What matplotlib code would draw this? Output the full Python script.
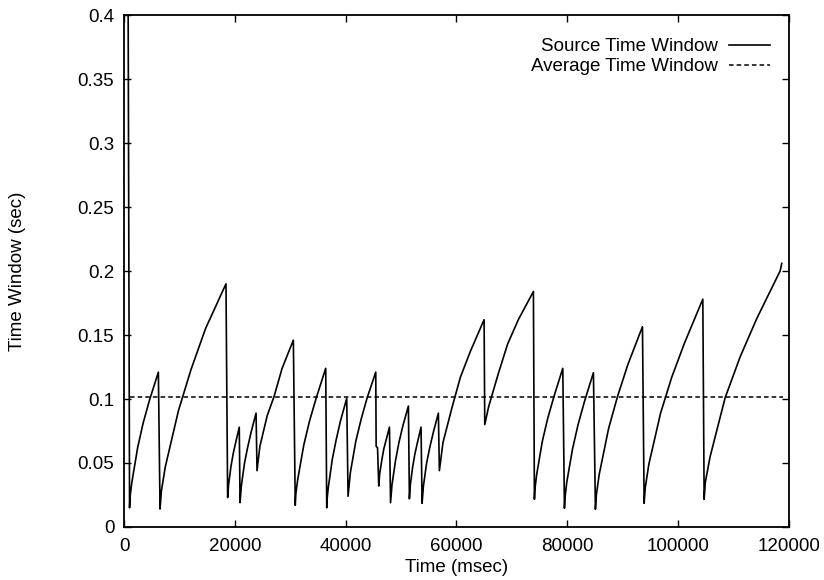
import matplotlib
matplotlib.use("Agg")
import matplotlib.pyplot as plt

plt.rcParams['font.family'] = ['Liberation Sans', 'DejaVu Sans']

# source time window (time in msec, window in sec)
src_time = [
    0, 750, 1000,
    1100, 1420, 2460, 3440, 4590, 6200, 6500,
    6740, 7450, 9830, 12090, 14710, 18400, 18700,
    18870, 19290, 19690, 20150, 20800, 20940,
    21170, 21750, 22300, 22930, 23830, 24000,
    24520, 25840, 27080, 28530, 30560, 30900,
    31010, 31340, 32440, 33490, 34700, 36400, 36580,
    36650, 36870, 37590, 38280, 39070, 40190, 40430,
    40830, 41830, 42780, 43880, 45430, 45500, 45750, 45970,
    46120, 46510, 46880, 47300, 47900, 48100,
    48360, 49000, 49610, 50320, 51320, 51500,
    51670, 52090, 52490, 52950, 53600, 53790,
    54030, 54610, 55170, 55820, 56730, 56910,
    57560, 59170, 60700, 62480, 64980, 65100,
    65800, 67560, 69230, 71160, 73880, 74060,
    74160, 74470, 75490, 76470, 77590, 79180, 79480,
    79580, 79900, 80940, 81940, 83090, 84710, 85070,
    85240, 85750, 87450, 89060, 90930, 93560, 93860,
    94070, 94710, 96830, 98840, 101170, 104450, 104690,
    104900, 105770, 108480, 111190, 114200, 118400, 118700,
]
src_window = [
    0.40, 0.40, 0.015,
    0.024, 0.035, 0.062, 0.081, 0.099, 0.121, 0.014,
    0.028, 0.047, 0.091, 0.123, 0.155, 0.190, 0.023,
    0.033, 0.047, 0.057, 0.066, 0.078, 0.019,
    0.032, 0.050, 0.062, 0.074, 0.089, 0.044,
    0.063, 0.087, 0.102, 0.124, 0.146, 0.017,
    0.026, 0.037, 0.064, 0.083, 0.101, 0.124, 0.015,
    0.022, 0.031, 0.053, 0.068, 0.083, 0.1005, 0.024,
    0.042, 0.067, 0.084, 0.101, 0.121, 0.063, 0.062, 0.032,
    0.041, 0.052, 0.061, 0.068, 0.078, 0.019,
    0.033, 0.052, 0.066, 0.079, 0.0945, 0.022,
    0.033, 0.047, 0.057, 0.066, 0.078, 0.0185,
    0.032, 0.050, 0.062, 0.074, 0.089, 0.044,
    0.066, 0.093, 0.117, 0.137, 0.162, 0.080,
    0.094, 0.120, 0.143, 0.162, 0.184, 0.0216,
    0.030, 0.041, 0.067, 0.085, 0.102, 0.124, 0.0146,
    0.023, 0.035, 0.061, 0.080, 0.098, 0.1206, 0.0138,
    0.025, 0.041, 0.077, 0.102, 0.127, 0.1565, 0.0185,
    0.031, 0.049, 0.089, 0.117, 0.144, 0.178, 0.0216,
    0.035, 0.055, 0.101, 0.133, 0.163, 0.200, 0.206,
]

avg_time = [1000, 119000]
avg_window = [0.1015, 0.1015]

x_ticks = [0, 20000, 40000, 60000, 80000, 100000, 120000]
y_ticks = [0, 0.05, 0.1, 0.15, 0.2, 0.25, 0.3, 0.35, 0.4]
y_labels = ['0', '0.05', '0.1', '0.15', '0.2', '0.25', '0.3', '0.35', '0.4']

fs = 13.5

fig = plt.figure(figsize=(8.24, 5.8), dpi=100)
ax = fig.add_axes([0.1505, 0.0914, 0.807, 0.8826])

ax.plot(src_time, src_window, color='black', lw=1.2, label='Source Time Window')
ax.plot(avg_time, avg_window, color='black', lw=1.1, dashes=(3, 2),
        label='Average Time Window')

ax.set_xlim(0, 120000)
ax.set_ylim(0, 0.4)
ax.set_xticks(x_ticks)
ax.set_xticklabels([str(t) for t in x_ticks])
ax.set_yticks(y_ticks)
ax.set_yticklabels(y_labels)
ax.tick_params(direction='in', top=True, right=True, length=5, width=1,
               labelsize=fs)
ax.tick_params(axis='x', pad=8)
ax.tick_params(axis='y', pad=7)
for s in ax.spines.values():
    s.set_linewidth(1.3)

ax.set_xlabel('Time (msec)', fontsize=fs)
ax.xaxis.set_label_coords(0.5, -0.062)
ax.set_ylabel('Time Window (sec)', fontsize=fs)
ax.yaxis.set_label_coords(-0.148, 0.5)

ax.legend(loc='upper right', frameon=False, markerfirst=False, fontsize=fs,
          handlelength=2.2, handletextpad=0.6, labelspacing=0.15,
          borderpad=0, borderaxespad=0, bbox_to_anchor=(0.972, 0.955))
leg = ax.get_legend()
for t in leg.get_texts():
    t.set_ha('right')

fig.savefig('out.png', dpi=100)
